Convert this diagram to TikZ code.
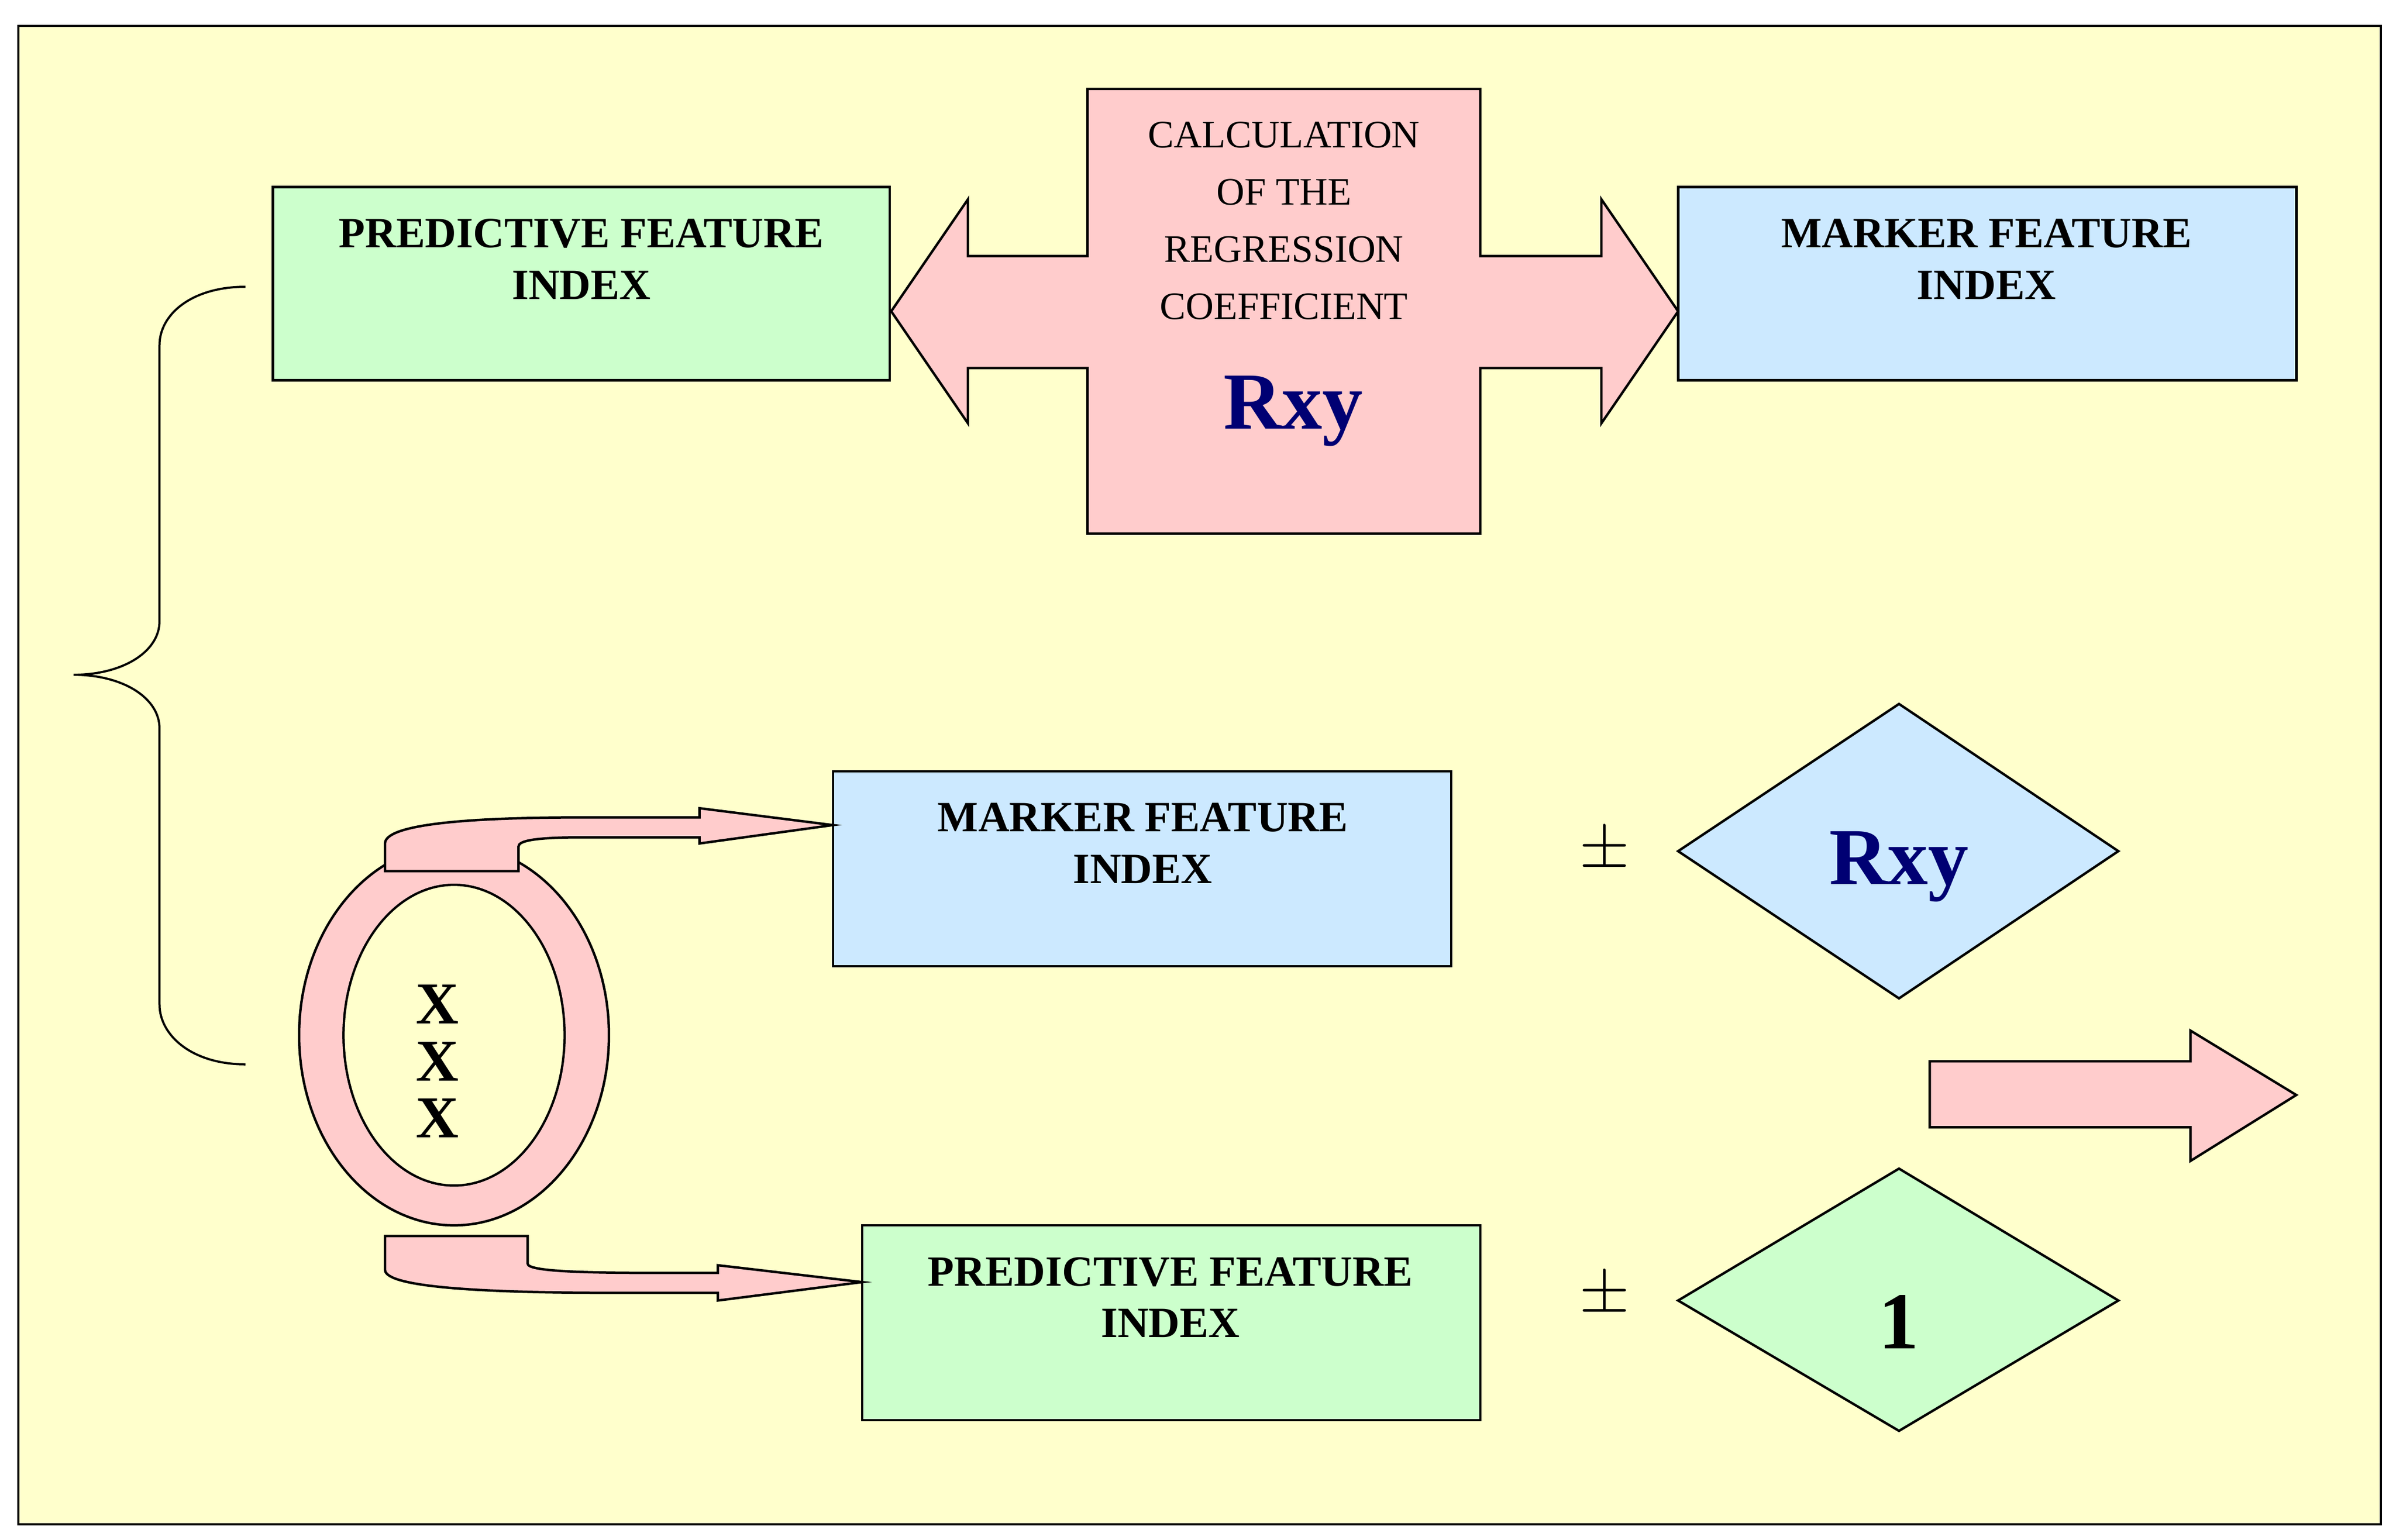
\documentclass[tikz,border=0pt]{standalone}
\usepackage{fontspec}
\setmainfont{Liberation Serif}
\begin{document}
\begin{tikzpicture}[x=0.01cm,y=-0.01cm,line width=0.4pt,
  box/.style={draw,line width=0.45pt},
  lbl/.style={font=\fontsize{8}{9.6}\selectfont\bfseries,align=center},
  thin/.style={font=\fontsize{7.2}{10.6}\selectfont,align=center},
  big/.style={font=\fontsize{15}{16}\selectfont\bfseries,text=blue!45!black}]
\useasboundingbox (0,0) rectangle (1562,1004);
\definecolor{bg}{HTML}{FFFFCC}
\definecolor{gr}{HTML}{CCFFCC}
\definecolor{bl}{HTML}{CCE9FF}
\definecolor{pk}{HTML}{FFCCCC}
\draw[fill=bg] (12,17) rectangle (1552,994);
% top boxes
\draw[box,fill=gr] (178,122) rectangle (580,248);
\node[lbl] (p1) at (379,169) {PREDICTIVE FEATURE\\INDEX};
\draw[box,fill=bl] (1094,122) rectangle (1497,248);
\node[lbl] (m1) at (1295,169) {MARKER FEATURE\\INDEX};
% cross arrow
\draw[box,fill=pk] (709,58) -- (965,58) -- (965,167) -- (1044,167) -- (1044,130) -- (1094,203) -- (1044,276) -- (1044,240) -- (965,240) -- (965,348) -- (709,348) -- (709,240) -- (631,240) -- (631,276) -- (581,203) -- (631,130) -- (631,167) -- (709,167) -- cycle;
\node[thin] (calc) at (837,144) {CALCULATION\\OF THE\\REGRESSION\\COEFFICIENT};
\node[big] (r1) at (843,268) {Rxy};
% brace
\draw (160,187) .. controls (125,187) and (104,205) .. (104,225) -- (104,405) .. controls (104,425) and (80,440) .. (48,440) .. controls (80,440) and (104,455) .. (104,475) -- (104,655) .. controls (104,675) and (125,694) .. (160,694);
% lower boxes
\draw[box,fill=bl] (543,503) rectangle (946,630);
\node[lbl] (m2) at (745,550) {MARKER FEATURE\\INDEX};
\draw[box,fill=gr] (562,799) rectangle (965,926);
\node[lbl] (p2) at (763,846) {PREDICTIVE FEATURE\\INDEX};
\node[font=\fontsize{13}{14}\selectfont] (pm1) at (1046,555) {$\pm$};
\node[font=\fontsize{13}{14}\selectfont] (pm2) at (1046,845) {$\pm$};
\draw[box,fill=bl] (1094,555) -- (1238,459) -- (1381,555) -- (1238,651) -- cycle;
\node[big] (r2) at (1238,565) {Rxy};
\draw[box,fill=gr] (1094,848) -- (1238,762) -- (1381,848) -- (1238,933) -- cycle;
\node[font=\fontsize{15}{16}\selectfont\bfseries] (one) at (1238,862) {1};
\draw[box,fill=pk] (1258,692) -- (1428,692) -- (1428,672) -- (1497,714) -- (1428,757) -- (1428,735) -- (1258,735) -- cycle;
% ring
\draw[box,fill=pk,even odd rule] (296,675) ellipse [x radius=101,y radius=124] (296,675) ellipse [x radius=72,y radius=98];
\fill[bg] (296,675) ellipse [x radius=72,y radius=98];
\draw (296,675) ellipse [x radius=72,y radius=98];
\node[font=\fontsize{11}{10.6}\selectfont\bfseries,align=center] (xs) at (285,692) {X\\X\\X};
% curved arrows
\draw[box,fill=pk] (251,568) -- (251,550) .. controls (251,538) and (300,533) .. (380,533) -- (456,533) -- (456,527) -- (543,538) -- (456,550) -- (456,546) -- (380,546) .. controls (350,546) and (338,548) .. (338,552) -- (338,568) -- cycle;
\draw[box,fill=pk] (251,806) -- (344,806) -- (344,824) .. controls (344,829) and (380,830) .. (430,830) -- (468,830) -- (468,825) -- (562,836) -- (468,848) -- (468,843) -- (400,843) .. controls (300,843) and (251,838) .. (251,828) -- cycle;
\end{tikzpicture}
\end{document}
